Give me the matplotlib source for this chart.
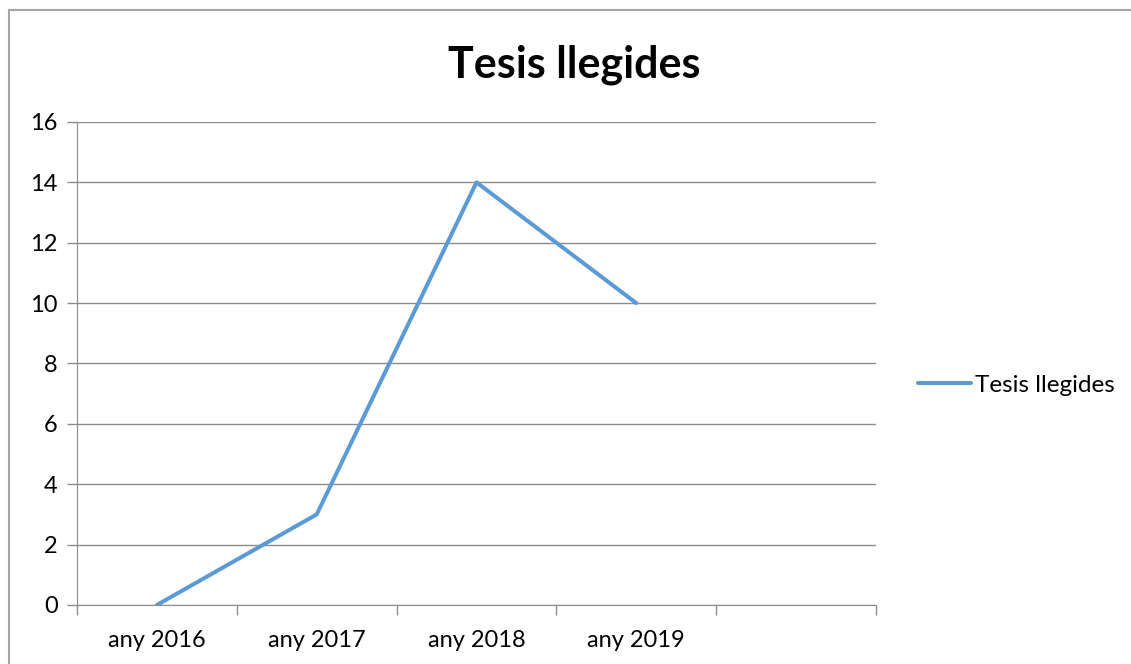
import matplotlib.pyplot as plt
from matplotlib.lines import Line2D

plt.rcParams['font.family'] = ['Lato', 'DejaVu Sans']

categories = ["any 2016", "any 2017", "any 2018", "any 2019", ""]
years = ["any 2016", "any 2017", "any 2018", "any 2019"]
tesis = [0, 3, 14, 10]
series_name = "Tesis llegides"

fig = plt.figure(figsize=(11.31, 6.64), dpi=100)
ax = fig.add_axes([0.0681, 0.0889, 0.7064, 0.7274])

grid_col = '#8c8c8c'
x = list(range(len(years)))
ax.plot(x, tesis, color='#5B9BD5', lw=2.9, solid_capstyle='round', label=series_name, zorder=3)

ax.set_xlim(-0.5, len(categories) - 0.5)
ax.set_ylim(0, 16)
ax.set_yticks(range(0, 17, 2))
ax.yaxis.grid(True, color=grid_col, lw=1)
ax.set_axisbelow(True)

# category labels centred, tick marks on boundaries
ax.set_xticks(range(len(categories)))
ax.set_xticklabels(categories)
ax.tick_params(axis='x', length=0, pad=18, labelsize=17)
ax.set_xticks([i - 0.5 for i in range(len(categories) + 1)], minor=True)
ax.tick_params(axis='x', which='minor', length=7, color=grid_col, width=1)
ax.tick_params(axis='y', length=7, color=grid_col, width=1, pad=7, labelsize=17)

for s in ['top', 'right']:
    ax.spines[s].set_visible(False)
ax.spines['left'].set_color(grid_col)
ax.spines['bottom'].set_color(grid_col)

fig.text(0.508, 0.902, "Tesis llegides", ha='center', va='center',
         fontsize=31, fontweight='bold')

ax.legend(loc='center left', bbox_to_anchor=(1.025, 0.455), frameon=False,
          fontsize=17.5, handlelength=2.2, handletextpad=0.15)

# outer chart border (left and top visible only)
bx, by = 8.5 / 1131, 1 - 10 / 664
fig.add_artist(Line2D([bx, bx], [0, by], transform=fig.transFigure, color='#a6a6a6', lw=1.5))
fig.add_artist(Line2D([bx, 1], [by, by], transform=fig.transFigure, color='#a6a6a6', lw=1.5))

fig.savefig('out.png', dpi=100)
